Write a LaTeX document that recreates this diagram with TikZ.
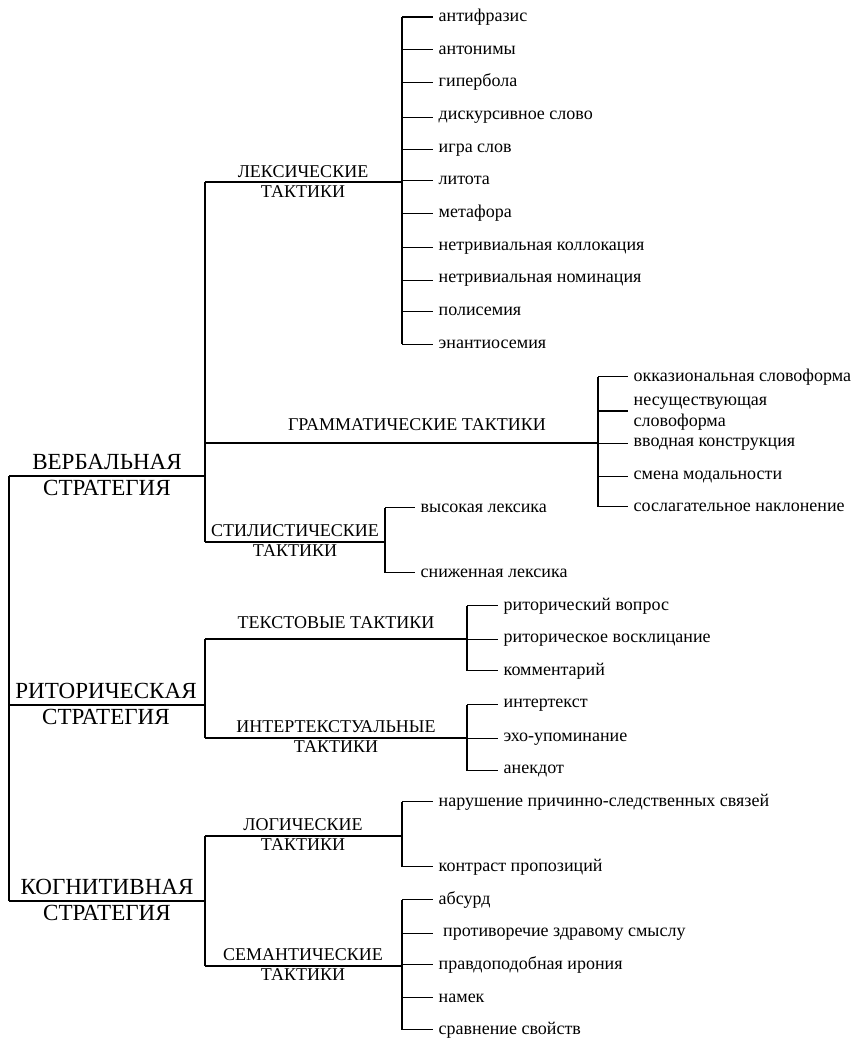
\documentclass[tikz,border=0pt]{standalone}
\usepackage{fontspec}
\setmainfont{Liberation Serif}
\begin{document}
\begin{tikzpicture}[x=0.75pt,y=-0.75pt,
  line width=0.8pt,
  leaf/.style={anchor=mid west,inner xsep=3.9pt,inner ysep=0pt,font=\fontsize{13.5}{15.75}\selectfont},
  leaf2/.style={anchor=west,align=left,inner xsep=3.9pt,inner ysep=0pt,font=\fontsize{13.5}{15.75}\selectfont},
  tact/.style={align=center,inner sep=0pt,font=\fontsize{13.5}{15}\selectfont},
  strat/.style={align=center,inner sep=0pt,font=\fontsize{17.3}{19.5}\selectfont}]
\useasboundingbox (0,0) rectangle (857,1038);

% strategies
\node[strat] (verb) at (107,475) {ВЕРБАЛЬНАЯ\\СТРАТЕГИЯ};
\node[strat] (rhet) at (106,704) {РИТОРИЧЕСКАЯ\\СТРАТЕГИЯ};
\node[strat] (cogn) at (107,900) {КОГНИТИВНАЯ\\СТРАТЕГИЯ};

\coordinate (vL) at (9,476);
\coordinate (rL) at (9,705);
\coordinate (cL) at (9,901);
\coordinate (vR) at (205,476);
\coordinate (rR) at (205,705);
\coordinate (cR) at (205,901);
\draw (vL) -- (cL);
\draw (vL) -- (vR);
\draw (rL) -- (rR);
\draw (cL) -- (cR);

% tactics
\node[tact] (lex) at (303,182) {ЛЕКСИЧЕСКИЕ\\ТАКТИКИ};
\node[tact] (gram) at (417,425) {ГРАММАТИЧЕСКИЕ ТАКТИКИ};
\node[tact] (styl) at (295,541) {СТИЛИСТИЧЕСКИЕ\\ТАКТИКИ};
\node[tact] (text) at (336,623) {ТЕКСТОВЫЕ ТАКТИКИ};
\node[tact] (inter) at (336,737) {ИНТЕРТЕКСТУАЛЬНЫЕ\\ТАКТИКИ};
\node[tact] (logi) at (303,835) {ЛОГИЧЕСКИЕ\\ТАКТИКИ};
\node[tact] (sem) at (303,965) {СЕМАНТИЧЕСКИЕ\\ТАКТИКИ};

\coordinate (lexL) at (205,182);  \coordinate (lexR) at (402,182);
\coordinate (gramL) at (205,443); \coordinate (gramR) at (598,443);
\coordinate (stylL) at (205,542); \coordinate (stylR) at (385,542);
\coordinate (textL) at (205,639); \coordinate (textR) at (467,639);
\coordinate (interL) at (205,738);\coordinate (interR) at (467,738);
\coordinate (logL) at (205,836);  \coordinate (logR) at (402,836);
\coordinate (semL) at (205,966);  \coordinate (semR) at (402,966);

\draw (lexL) -- (stylL);
\draw (textL) -- (interL);
\draw (logL) -- (semL);
\foreach \a/\b in {lexL/lexR,gramL/gramR,stylL/stylR,textL/textR,interL/interR,logL/logR,semL/semR}
  \draw (\a) -- (\b);

% lexical leaves
\node[leaf] (l1) at (433,18.3) {антифразис};
\node[leaf] (l2) at (433,51) {антонимы};
\node[leaf] (l3) at (433,83.7) {гипербола};
\node[leaf] (l4) at (433,116.4) {дискурсивное слово};
\node[leaf] (l5) at (433,149.1) {игра слов};
\node[leaf] (l6) at (433,181.8) {литота};
\node[leaf] (l7) at (433,214.5) {метафора};
\node[leaf] (l8) at (433,247.2) {нетривиальная коллокация};
\node[leaf] (l9) at (433,279.9) {нетривиальная номинация};
\node[leaf] (l10) at (433,312.6) {полисемия};
\node[leaf] (l11) at (433,345.3) {энантиосемия};
\draw (l1.west -| lexR) -- (l11.west -| lexR);
\foreach \n in {l1,l2,l3,l4,l5,l6,l7,l8,l9,l10,l11}
  \draw (\n.west -| lexR) -- (\n.west);

% grammatical leaves
\node[leaf] (g1) at (628,378) {окказиональная словоформа};
\node[leaf2] (g2) at (628,414) {несуществующая\\словоформа};
\coordinate (g2c) at (628,411);
\node[leaf] (g3) at (628,443) {вводная конструкция};
\node[leaf] (g4) at (628,476) {смена модальности};
\node[leaf] (g5) at (628,508) {сослагательное наклонение};
\draw (g1.west -| gramR) -- (g5.west -| gramR);
\foreach \n in {g1,g2c,g3,g4,g5}
  \draw (\n -| gramR) -- (\n);

% stylistic leaves
\node[leaf] (s1) at (415,509) {высокая лексика};
\node[leaf] (s2) at (415,574) {сниженная лексика};
\draw (s1.west -| stylR) -- (s2.west -| stylR);
\foreach \n in {s1,s2}
  \draw (\n.west -| stylR) -- (\n.west);

% textual leaves
\node[leaf] (t1) at (498,607) {риторический вопрос};
\node[leaf] (t2) at (498,639) {риторическое восклицание};
\node[leaf] (t3) at (498,672) {комментарий};
\draw (t1.west -| textR) -- (t3.west -| textR);
\foreach \n in {t1,t2,t3}
  \draw (\n.west -| textR) -- (\n.west);

% intertextual leaves
\node[leaf] (i1) at (498,704) {интертекст};
\node[leaf] (i2) at (498,738) {эхо-упоминание};
\node[leaf] (i3) at (498,770) {анекдот};
\draw (i1.west -| interR) -- (i3.west -| interR);
\foreach \n in {i1,i2,i3}
  \draw (\n.west -| interR) -- (\n.west);

% logical leaves
\node[leaf] (lg1) at (433,803) {нарушение причинно-следственных связей};
\node[leaf] (lg2) at (433,868) {контраст пропозиций};
\draw (lg1.west -| logR) -- (lg2.west -| logR);
\foreach \n in {lg1,lg2}
  \draw (\n.west -| logR) -- (\n.west);

% semantic leaves
\node[leaf] (sm1) at (433,901) {абсурд};
\node[leaf] (sm2) at (433,933) {\ противоречие здравому смыслу};
\node[leaf] (sm3) at (433,966) {правдоподобная ирония};
\node[leaf] (sm4) at (433,999) {намек};
\node[leaf] (sm5) at (433,1031) {сравнение свойств};
\draw (sm1.west -| semR) -- (sm5.west -| semR);
\foreach \n in {sm1,sm2,sm3,sm4,sm5}
  \draw (\n.west -| semR) -- (\n.west);
\end{tikzpicture}
\end{document}
